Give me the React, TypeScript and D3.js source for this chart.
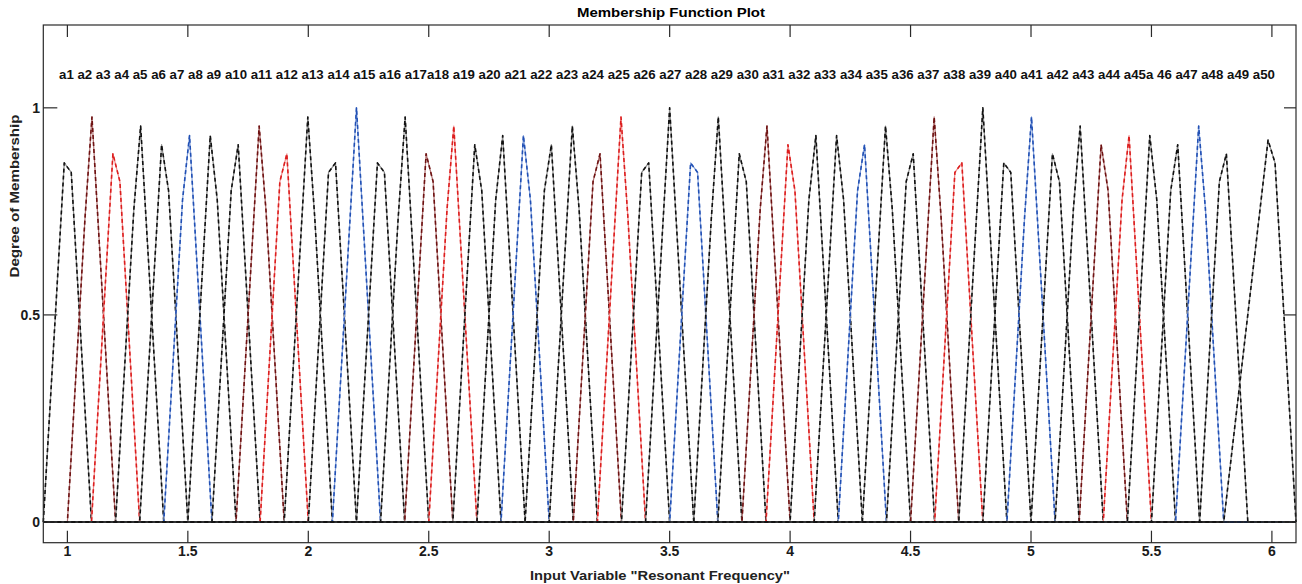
import React from 'react';
import * as d3 from 'd3';

// membership functions a1..a50
const mfNames = [
  'a1', 'a2', 'a3', 'a4', 'a5', 'a6', 'a7', 'a8', 'a9', 'a10',
  'a11', 'a12', 'a13', 'a14', 'a15', 'a16', 'a17', 'a18', 'a19', 'a20',
  'a21', 'a22', 'a23', 'a24', 'a25', 'a26', 'a27', 'a28', 'a29', 'a30',
  'a31', 'a32', 'a33', 'a34', 'a35', 'a36', 'a37', 'a38', 'a39', 'a40',
  'a41', 'a42', 'a43', 'a44', 'a45', 'a46', 'a47', 'a48', 'a49', 'a50'
];

// where each curve leaves / returns to zero
const mfFeet = [
  [0.9, 1.1], [1.0, 1.2], [1.1, 1.3], [1.2, 1.4], [1.3, 1.5], [1.4, 1.6], [1.5, 1.7],
  [1.6, 1.8], [1.7, 1.9], [1.8, 2.0], [1.9, 2.1], [2.0, 2.2], [2.1, 2.3], [2.2, 2.4],
  [2.3, 2.5], [2.4, 2.6], [2.5, 2.7], [2.6, 2.8], [2.7, 2.9], [2.8, 3.0], [2.9, 3.1],
  [3.0, 3.2], [3.1, 3.3], [3.2, 3.4], [3.3, 3.5], [3.4, 3.6], [3.5, 3.7], [3.6, 3.8],
  [3.7, 3.9], [3.8, 4.0], [3.9, 4.1], [4.0, 4.2], [4.1, 4.3], [4.2, 4.4], [4.3, 4.5],
  [4.4, 4.6], [4.5, 4.7], [4.6, 4.8], [4.7, 4.9], [4.8, 5.0], [4.9, 5.1], [5.0, 5.2],
  [5.1, 5.3], [5.2, 5.4], [5.3, 5.5], [5.4, 5.6], [5.5, 5.7], [5.6, 5.8], [5.7, 5.9],
  [5.8, 6.1]
];

// top vertices of each (sampled) curve: [x, degree]
const mfTops = [
  [[0.987, 0.867], [1.016, 0.844]],
  [[1.073, 0.733], [1.102, 0.978]],
  [[1.189, 0.889], [1.218, 0.822]],
  [[1.276, 0.756], [1.304, 0.956]],
  [[1.391, 0.911], [1.420, 0.800]],
  [[1.478, 0.778], [1.507, 0.933]],
  [[1.593, 0.933], [1.622, 0.778]],
  [[1.680, 0.800], [1.709, 0.911]],
  [[1.796, 0.956], [1.824, 0.756]],
  [[1.882, 0.822], [1.911, 0.889]],
  [[1.998, 0.978], [2.027, 0.733]],
  [[2.084, 0.844], [2.113, 0.867]],
  [[2.200, 1.000]],
  [[2.287, 0.867], [2.316, 0.844]],
  [[2.373, 0.733], [2.402, 0.978]],
  [[2.489, 0.889], [2.518, 0.822]],
  [[2.576, 0.756], [2.604, 0.956]],
  [[2.691, 0.911], [2.720, 0.800]],
  [[2.778, 0.778], [2.807, 0.933]],
  [[2.893, 0.933], [2.922, 0.778]],
  [[2.980, 0.800], [3.009, 0.911]],
  [[3.096, 0.956], [3.124, 0.756]],
  [[3.182, 0.822], [3.211, 0.889]],
  [[3.298, 0.978], [3.327, 0.733]],
  [[3.384, 0.844], [3.413, 0.867]],
  [[3.500, 1.000]],
  [[3.587, 0.867], [3.616, 0.844]],
  [[3.673, 0.733], [3.702, 0.978]],
  [[3.789, 0.889], [3.818, 0.822]],
  [[3.876, 0.756], [3.904, 0.956]],
  [[3.991, 0.911], [4.020, 0.800]],
  [[4.078, 0.778], [4.107, 0.933]],
  [[4.193, 0.933], [4.222, 0.778]],
  [[4.280, 0.800], [4.309, 0.911]],
  [[4.396, 0.956], [4.424, 0.756]],
  [[4.482, 0.822], [4.511, 0.889]],
  [[4.598, 0.978], [4.627, 0.733]],
  [[4.684, 0.844], [4.713, 0.867]],
  [[4.800, 1.000]],
  [[4.887, 0.867], [4.916, 0.844]],
  [[4.973, 0.733], [5.002, 0.978]],
  [[5.089, 0.889], [5.118, 0.822]],
  [[5.176, 0.756], [5.204, 0.956]],
  [[5.291, 0.911], [5.320, 0.800]],
  [[5.378, 0.778], [5.407, 0.933]],
  [[5.493, 0.933], [5.522, 0.778]],
  [[5.580, 0.800], [5.609, 0.911]],
  [[5.696, 0.956], [5.724, 0.756]],
  [[5.782, 0.822], [5.811, 0.889]],
  [[5.984, 0.922], [6.013, 0.867]]
];

const xTicks = [1, 1.5, 2, 2.5, 3, 3.5, 4, 4.5, 5, 5.5, 6];
const yTicks = [0, 0.5, 1];
const xDomain = [0.9, 6.1];
const yDomain = [-0.05, 1.2];

// label strip as typed in the figure
const topLabel = 'a1 a2 a3 a4 a5 a6 a7 a8 a9 a10 a11 a12 a13 a14 a15 a16 a17a18 a19 a20 a21 a22 a23 a24 a25 a26 a27 a28 a29 a30 a31 a32 a33 a34 a35 a36 a37 a38 a39 a40 a41 a42 a43 a44 a45a 46 a47 a48 a49 a50';

// colour cycle: dark stroke, lighter under-stroke
const cycle = [
  ['#111111', '#8c8c8c'],
  ['#6e1212', '#b07272'],
  ['#dc1e1e', '#f08a8a'],
  ['#111111', '#8c8c8c'],
  ['#111111', '#8c8c8c'],
  ['#2150b4', '#86a2dc'],
  ['#111111', '#8c8c8c']
];

const W = 1302;
const H = 584;
const left = 43.3, right = 1296, top = 25, bottom = 542.7;
const tickLen = 12;
const font = '"Liberation Sans", Arial, sans-serif';

export default function App() {
  const x = d3.scaleLinear().domain(xDomain).range([left, right]);
  const y = d3.scaleLinear().domain(yDomain).range([bottom, top]);
  const line = d3.line<number[]>().x(d => x(d[0])).y(d => y(d[1]));

  const curves = mfNames.map((name, i) => {
    const [fl, fr] = mfFeet[i];
    const pts: number[][] = [];
    if (fl > xDomain[0]) pts.push([xDomain[0], 0]);
    pts.push([fl, 0]);
    mfTops[i].forEach(p => pts.push(p));
    pts.push([fr, 0]);
    if (fr < xDomain[1]) pts.push([xDomain[1], 0]);
    return { name, d: line(pts) as string, col: cycle[i % cycle.length] };
  });

  return (
    <svg width={W} height={H} style={{ position: 'absolute', left: 0, top: 0, background: '#fff' }}>
      <rect x={0} y={0} width={W} height={H} fill="#fff" />

      {/* curves */}
      <g fill="none" strokeLinejoin="round">
        {curves.map(c => (
          <g key={c.name}>
            <path d={c.d} stroke={c.col[1]} strokeWidth={1.2} />
            <path d={c.d} stroke={c.col[0]} strokeWidth={1.6} strokeDasharray="4 3" />
          </g>
        ))}
      </g>
      {/* zero line where the curves rest */}
      <line x1={left} x2={right} y1={y(0)} y2={y(0)} stroke="#111" strokeWidth={1.3} />

      {/* box + ticks */}
      <g stroke="#2a2a2a" strokeWidth={1.2} fill="none">
        <rect x={left} y={top} width={right - left} height={bottom - top} />
        {xTicks.map(t => (
          <g key={'xt' + t}>
            <line x1={x(t)} x2={x(t)} y1={top} y2={top + tickLen} />
            <line x1={x(t)} x2={x(t)} y1={bottom} y2={bottom - tickLen} />
          </g>
        ))}
        {yTicks.map(t => (
          <g key={'yt' + t}>
            <line x1={left} x2={left + tickLen + 2} y1={y(t)} y2={y(t)} />
            <line x1={right} x2={right - tickLen} y1={y(t)} y2={y(t)} />
          </g>
        ))}
      </g>

      {/* tick labels */}
      <g fontFamily={font} fontWeight="bold" fontSize={14} fill="#1a1a1a">
        {xTicks.map(t => (
          <text key={'xl' + t} x={x(t)} y={556} textAnchor="middle">{String(t)}</text>
        ))}
        {yTicks.map(t => (
          <text key={'yl' + t} x={40} y={y(t) + 5} textAnchor="end">{String(t)}</text>
        ))}
      </g>

      {/* membership names */}
      <text x={59} y={79} fontFamily={font} fontWeight="bold" fontSize={12.5} fill="#111"
        textLength={1216} lengthAdjust="spacingAndGlyphs">{topLabel}</text>

      {/* title and axis labels */}
      <text x={671} y={17} textAnchor="middle" fontFamily={font} fontWeight="bold" fontSize={12.5}
        fill="#000" textLength={188} lengthAdjust="spacingAndGlyphs">Membership Function Plot</text>
      <text x={660} y={580} textAnchor="middle" fontFamily={font} fontWeight="bold" fontSize={13.5}
        fill="#222" textLength={260} lengthAdjust="spacingAndGlyphs">Input Variable "Resonant Frequency"</text>
      <text transform="translate(19,196) rotate(-90)" textAnchor="middle" fontFamily={font}
        fontWeight="bold" fontSize={13.5} fill="#222" textLength={163}
        lengthAdjust="spacingAndGlyphs">Degree of Membership</text>
    </svg>
  );
}
